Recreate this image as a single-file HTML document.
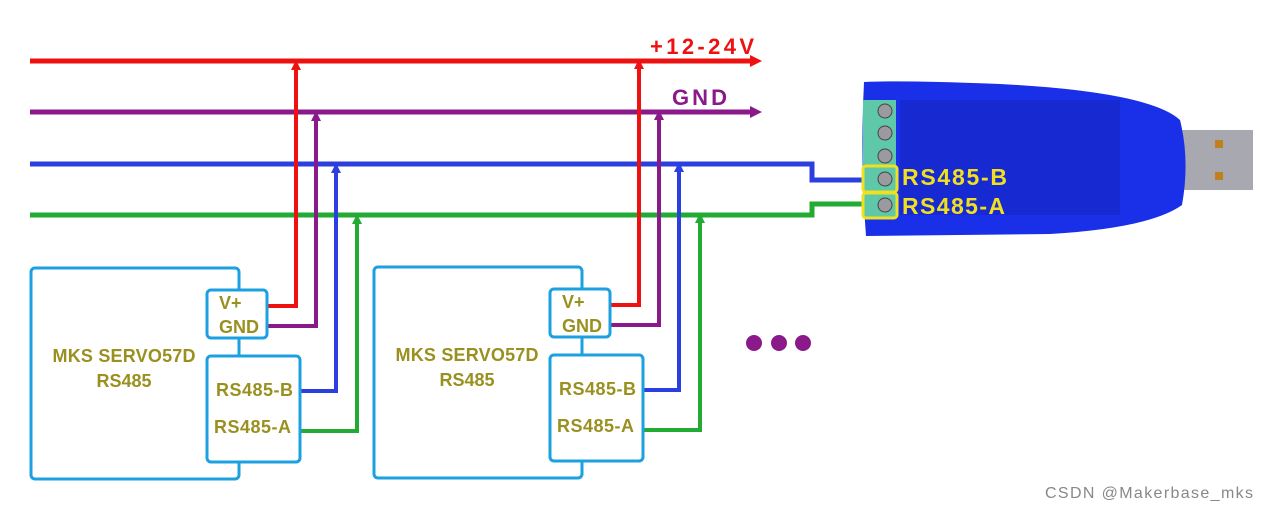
<!DOCTYPE html><html><head><style>body{margin:0;background:#fff}svg{display:block}text{font-family:"Liberation Sans",sans-serif;font-weight:bold}</style></head><body>
<svg width="1268" height="510" viewBox="0 0 1268 510">
<g stroke-width="5" fill="none">
<path d="M30 61H756" stroke="#ee1111"/><path d="M750 55l12 6-12 6z" fill="#ee1111" stroke="none"/>
<path d="M30 112H756" stroke="#8a1a8a"/><path d="M750 106l12 6-12 6z" fill="#8a1a8a" stroke="none"/>
<path d="M30 164H812V180H870" stroke="#2b3fe0"/>
<path d="M30 215H812V204H870" stroke="#22aa33"/>
</g>
<g id="m">
<g fill="none" stroke-width="4">
<path d="M268 306H296V66" stroke="#ee1111"/><path d="M268 326H316V117" stroke="#8a1a8a"/>
<path d="M301 391H336V169" stroke="#2b3fe0"/><path d="M301 431H357V220" stroke="#22aa33"/>
</g>
<path d="M291 70l5-10 5 10z" fill="#ee1111"/><path d="M311 121l5-10 5 10z" fill="#8a1a8a"/>
<path d="M331 173l5-10 5 10z" fill="#2b3fe0"/><path d="M352 224l5-10 5 10z" fill="#22aa33"/>
<g fill="#fff" stroke="#1ba0e0" stroke-width="3">
<rect x="31" y="268" width="208" height="211" rx="4"/>
<rect x="207" y="290" width="60" height="48" rx="4"/>
<rect x="207" y="356" width="93" height="106" rx="4"/>
</g>
<path d="M239 338V356" stroke="#1ba0e0" stroke-width="3"/>
<g fill="#9a9020" font-size="18">
<text x="124" y="362" text-anchor="middle" textLength="143">MKS SERVO57D</text>
<text x="124" y="387" text-anchor="middle">RS485</text>
<text x="219" y="309">V+</text><text x="219" y="333">GND</text>
<text x="216" y="396" textLength="77">RS485-B</text><text x="214" y="433" textLength="77">RS485-A</text>
</g>
</g>
<use href="#m" transform="translate(343,-1)"/>
<g fill="#8a1a8a"><circle cx="754" cy="343" r="8"/><circle cx="779" cy="343" r="8"/><circle cx="803" cy="343" r="8"/></g>
<text x="650" y="54" fill="#ee1111" font-size="22" textLength="104">+12-24V</text>
<text x="672" y="105" fill="#8a1a8a" font-size="22" textLength="55">GND</text>
<rect x="1180" y="130" width="73" height="60" fill="#a8a8b0"/>
<rect x="1215" y="140" width="8" height="8" fill="#c08020"/><rect x="1215" y="172" width="8" height="8" fill="#c08020"/>
<path d="M864 82 Q900 80 1000 84 Q1150 92 1180 120 Q1190 160 1182 205 Q1150 228 1050 234 L866 236 Q860 160 864 82Z" fill="#1a2fe8"/>
<path d="M900 100H1120V215H900Z" fill="#1424b8" opacity="0.5"/>
<rect x="863" y="100" width="33" height="118" fill="#5fc8a8"/>
<g fill="#9a9aa0" stroke="#444" stroke-width="1"><circle cx="885" cy="111" r="7"/><circle cx="885" cy="133" r="7"/><circle cx="885" cy="156" r="7"/><circle cx="885" cy="179" r="7"/><circle cx="885" cy="205" r="7"/></g>
<g fill="none" stroke="#f0e020" stroke-width="3"><rect x="863" y="166" width="34" height="26" rx="3"/><rect x="863" y="193" width="34" height="25" rx="3"/></g>
<text x="902" y="185" fill="#f0e020" font-size="23" textLength="105">RS485-B</text>
<text x="902" y="214" fill="#f0e020" font-size="23" textLength="103">RS485-A</text>
<text x="1045" y="498" fill="#888" font-size="16" style="font-weight:normal" textLength="208">CSDN @Makerbase_mks</text>
</svg></body></html>
